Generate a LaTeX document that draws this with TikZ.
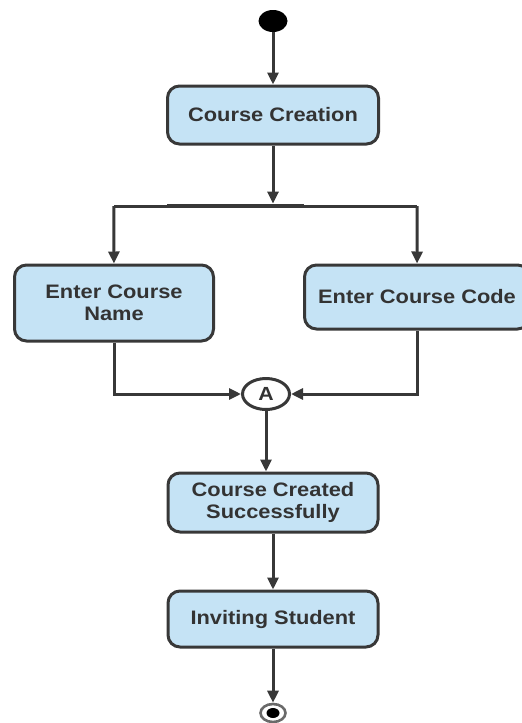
\documentclass[tikz,border=0pt]{standalone}
\usepackage{fontspec}
\setmainfont{Liberation Sans}[FakeStretch=1.12]
\usetikzlibrary{arrows.meta,shapes.geometric}
\definecolor{actfill}{HTML}{C5E3F5}
\definecolor{ink}{HTML}{383838}
\definecolor{txt}{HTML}{333333}
\tikzset{
  activity/.style={draw=ink, line width=3pt, fill=actfill, rounded corners=12pt,
    align=center, text=txt, font=\fontsize{19.5}{22.5}\selectfont\bfseries, inner sep=0pt},
  flow/.style={draw=ink, line width=3pt, -{Triangle[length=12pt,width=11pt]}},
  plain/.style={draw=ink, line width=3pt},
}
\begin{document}
\begin{tikzpicture}[x=1pt,y=-1pt]
  \useasboundingbox (0,0) rectangle (522,723);
  % initial state
  \node[ellipse, fill=black, minimum width=29pt, minimum height=22pt, inner sep=0pt] (start) at (273,21) {};
  % activities
  \node[activity, minimum width=211pt, minimum height=58pt] (cc) at (273,115) {Course Creation};
  \node[activity, minimum width=199pt, minimum height=76pt] (ecn) at (114,303) {Enter Course\\Name};
  \node[activity, minimum width=225pt, minimum height=64pt] (ecc) at (417,297) {Enter Course Code};
  \node[activity, minimum width=210pt, minimum height=59pt] (ccs) at (273,502.5) {Course Created\\Successfully};
  \node[activity, minimum width=210pt, minimum height=56pt] (inv) at (273,619) {Inviting Student};
  % fork bar
  \node[fill=ink, minimum width=137pt, minimum height=4.5pt, inner sep=0pt] (fork) at (235.5,206) {};
  % connector
  \node[ellipse, draw=ink, line width=3pt, fill=white, minimum width=47pt, minimum height=31pt,
        inner sep=0pt, text=txt, font=\fontsize{19}{22}\selectfont\bfseries] (A) at (266,394) {A};
  % final state
  \node[ellipse, draw=ink!75, line width=2.6pt, fill=white, minimum width=25pt, minimum height=18pt, inner sep=0pt] (stop) at (273,713) {};
  \node[ellipse, fill=black, minimum width=13pt, minimum height=10pt, inner sep=0pt] (stopdot) at (stop.center) {};
  % flows
  \draw[flow] (start) -- (cc);
  \draw[flow] (cc) -- (cc.south |- fork.north);
  \draw[plain] (fork.west) -- ++(-53,0) coordinate (fl);
  \draw[plain] (fork.east) -- ++(113,0) coordinate (fr);
  \draw[flow] (fl) -- (ecn);
  \draw[flow] (fr) -- (ecc);
  \draw[flow] (ecn) |- (A);
  \draw[flow] (ecc) |- (A);
  \draw[flow] (A) -- (A.south |- ccs.north);
  \draw[flow] (ccs) -- (inv);
  \draw[flow] (inv) -- (stop);
\end{tikzpicture}
\end{document}
